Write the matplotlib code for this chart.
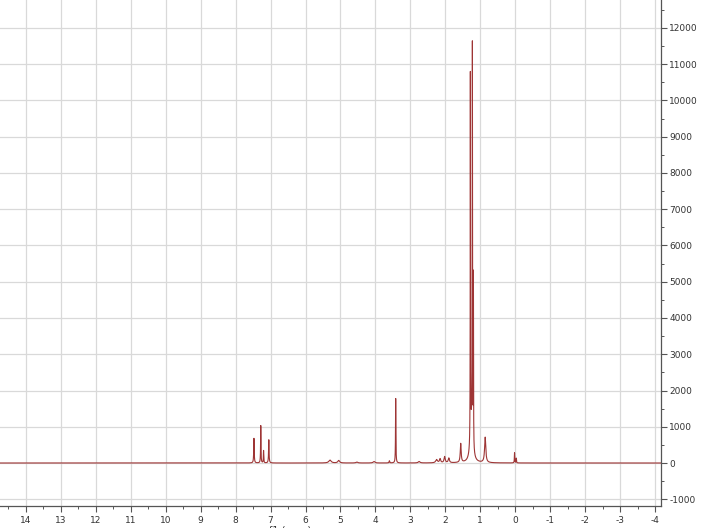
import numpy as np
import matplotlib
matplotlib.use("Agg")
import matplotlib.pyplot as plt
from matplotlib.ticker import MultipleLocator

plt.rcParams["axes.unicode_minus"] = False

# peak table: centre (ppm), height, half width (ppm)
peak_ppm = [7.475, 7.28, 7.20, 7.05,
            5.30, 5.05, 4.53, 4.04, 3.60, 3.42,
            2.75, 2.25, 2.15, 2.02, 1.90, 1.56,
            1.25, 1.284, 1.226, 1.197,
            0.86, 0.02, -0.03]
peak_height = [680, 1030, 340, 640,
               80, 70, 25, 40, 60, 1780,
               40, 90, 110, 170, 130, 520,
               1100, 10100, 10700, 4700,
               700, 280, 130]
peak_hwhm = [0.008, 0.006, 0.006, 0.008,
             0.04, 0.03, 0.03, 0.03, 0.01, 0.006,
             0.03, 0.03, 0.02, 0.02, 0.02, 0.015,
             0.04, 0.004, 0.004, 0.004,
             0.02, 0.006, 0.006]

x_ticks = np.arange(-4, 15, 1)
y_ticks = np.arange(-1000, 13000, 1000)

ppm = np.linspace(14.8, -4.2, 40000)
spec = np.zeros_like(ppm)
for c, h, w in zip(peak_ppm, peak_height, peak_hwhm):
    spec += h * w**2 / ((ppm - c)**2 + w**2)

fig = plt.figure(figsize=(7.05, 5.28), dpi=100)
ax = fig.add_axes([0.0, 22/528, 661/705, 506/528])

ax.plot(ppm, spec, color="#9e3535", lw=0.8)

ax.set_xlim(14.74, -4.17)
ax.set_ylim(-1186, 12772)

ax.set_xticks(x_ticks)
ax.xaxis.set_minor_locator(MultipleLocator(0.5))
ax.set_yticks(y_ticks)
ax.yaxis.set_minor_locator(MultipleLocator(500))
ax.yaxis.tick_right()

ax.grid(True, which="major", color="#d9d9d9", lw=0.9)
ax.set_axisbelow(True)

for s in ["top", "left"]:
    ax.spines[s].set_visible(False)
for s in ["bottom", "right"]:
    ax.spines[s].set_color("#555555")
    ax.spines[s].set_linewidth(0.9)

ax.tick_params(axis="both", which="major", direction="out", length=4,
               width=0.8, color="#555555", labelsize=6.5, labelcolor="#333333")
ax.tick_params(axis="both", which="minor", direction="out", length=2,
               width=0.7, color="#555555")
ax.tick_params(axis="y", pad=2)
ax.tick_params(axis="x", pad=3)

fig.text(290/705, -3/528, "f1 (ppm)", ha="center", va="center",
         fontsize=7, color="#333333")

fig.savefig("out.png", dpi=100)
